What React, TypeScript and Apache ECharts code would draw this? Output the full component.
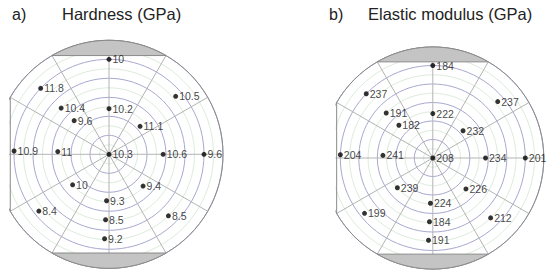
import React, { useEffect, useRef } from "react";
import * as echarts from "echarts";

// measurement sites on the wafer: radius (axis units, edge = 120) and angle (deg, CCW from east)
const siteRadius = [0, 48, 100, 51, 70, 100, 44, 93, 54, 100, 57, 100, 50, 95, 49, 69, 89, 49, 90];
const siteAngle = [0, 90, 90, 136, 136, 136, 42, 41, 177, 178, 0, 0, 220, 219, 267, 267, 267, 317, 314];
const hardness = [10.3, 10.2, 10, 9.6, 10.4, 11.8, 11.1, 10.5, 11, 10.9, 10.6, 9.6, 10, 8.4, 9.3, 8.5, 9.2, 9.4, 8.5];
const modulus = [208, 222, 184, 182, 191, 237, 232, 237, 241, 204, 234, 201, 239, 199, 224, 184, 191, 226, 212];
const panelLetters = ["a)", "b)"];
const panelTitles = ["Hardness (GPa)", "Elastic modulus (GPa)"];

const RMAX = 120;
const FONT = "Liberation Sans, Arial, sans-serif";

const panels = [
  { cx: 109, cy: 154.3, R: 114, letterX: 12, titleX: 62 },
  { cx: 432.8, cy: 158, R: 111, letterX: 329, titleX: 368 },
];

function arcCoords(api: any, r: number, a0: number, a1: number, n = 40) {
  const pts: number[][] = [];
  for (let i = 0; i <= n; i++) {
    pts.push(api.coord([r, a0 + ((a1 - a0) * i) / n]));
  }
  return pts;
}

export default function App() {
  const ref = useRef<HTMLDivElement>(null);
  useEffect(() => {
    if (!ref.current) return;
    const chart = echarts.init(ref.current, null, { renderer: "svg" });
    const values = [hardness, modulus];

    const waferShape = (i: number) => ({
      type: "custom",
      coordinateSystem: "polar",
      polarIndex: i,
      z: 10,
      silent: true,
      clip: false,
      data: [[RMAX, 0]],
      renderItem: (_params: any, api: any) => {
        const f0 = api.coord([RMAX, 150]);
        const f1 = api.coord([RMAX, 210]);
        return {
          type: "group",
          children: [
            {
              type: "polygon",
              shape: { points: arcCoords(api, RMAX + 4, 148, 212) },
              style: { fill: "#ffffff", stroke: null },
            },
            {
              type: "line",
              shape: { x1: f0[0], y1: f0[1], x2: f1[0], y2: f1[1] },
              style: { stroke: "#8a8a8a", lineWidth: 1 },
            },
            {
              type: "polygon",
              shape: { points: arcCoords(api, RMAX, 240, 300) },
              style: { fill: "#c4c4c4", stroke: "#8a8a8a", lineWidth: 1 },
            },
            {
              type: "polygon",
              shape: { points: arcCoords(api, RMAX, 60, 120) },
              style: { fill: "#c4c4c4", stroke: "#8a8a8a", lineWidth: 1 },
            },
          ],
        };
      },
    });

    const graphicTexts: any[] = [];
    panels.forEach((p, i) => {
      graphicTexts.push({
        type: "text",
        left: p.letterX,
        top: 6,
        style: { text: panelLetters[i], font: `16px ${FONT}`, fill: "#222" },
      });
      graphicTexts.push({
        type: "text",
        left: p.titleX,
        top: 5,
        style: { text: panelTitles[i], font: `16.5px ${FONT}`, fill: "#222" },
      });
    });

    const option: any = {
      animation: false,
      graphic: { elements: graphicTexts },
      polar: panels.map((p) => ({ center: [p.cx, p.cy], radius: p.R })),
      angleAxis: panels.map((_, i) => ({
        polarIndex: i,
        type: "value",
        min: 0,
        max: 360,
        interval: 30,
        startAngle: 0,
        clockwise: false,
        axisLine: { show: true, lineStyle: { color: "#8a8a8a", width: 1 } },
        axisTick: { show: false },
        axisLabel: { show: false },
        splitLine: { show: true, lineStyle: { color: "#b4b4b4", width: 1 } },
      })),
      radiusAxis: panels.map((_, i) => ({
        polarIndex: i,
        type: "value",
        min: 0,
        max: RMAX,
        interval: 10,
        axisLine: { show: false },
        axisTick: { show: false },
        axisLabel: { show: false },
        splitLine: {
          show: true,
          lineStyle: { color: ["#a8a8d0", "#dcecdc"], width: 1 },
        },
      })),
      series: [
        ...panels.map((_, i) => waferShape(i)),
        ...panels.map((_, i) => ({
          type: "scatter",
          coordinateSystem: "polar",
          polarIndex: i,
          z: 20,
          symbol: "circle",
          symbolSize: 5,
          itemStyle: { color: "#000" },
          data: siteRadius.map((r, k) => [r, siteAngle[k], values[i][k]]),
          label: {
            show: true,
            position: "right",
            distance: 1,
            formatter: (q: any) => String(q.data[2]),
            fontFamily: FONT,
            fontSize: 10.5,
            color: "#111",
          },
        })),
      ],
    };
    chart.setOption(option);
    return () => chart.dispose();
  }, []);
  return (
    <div
      ref={ref}
      style={{ position: "fixed", left: 0, top: 0, width: 550, height: 277, background: "#fff" }}
    />
  );
}
